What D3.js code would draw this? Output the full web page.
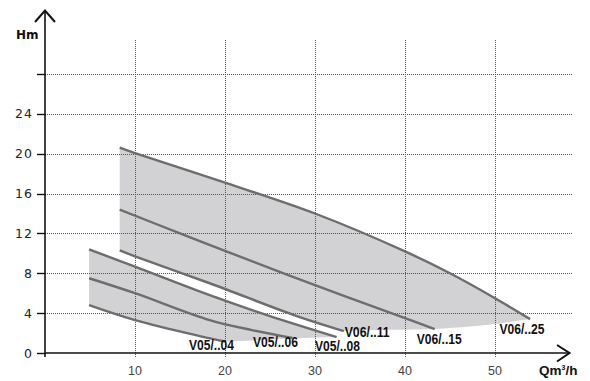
<!DOCTYPE html>
<html><head><meta charset="utf-8">
<script src="https://cdn.jsdelivr.net/npm/d3@7"></script>
<style>
html,body{margin:0;padding:0;background:#fff;}
svg{display:block;}
</style></head>
<body>
<svg id="c" width="590" height="381"></svg>
<script>
// ---- data ----
const flowTicks = [10, 20, 30, 40, 50];
const headTicks = [0, 4, 8, 12, 16, 20, 24, 28];
const headTickLabels = ["0", "4", "8", "12", "16", "20", "24", ""];

// V06 group (pump curves, Q m3/h, H m)
const v06_25 = [[8.3,20.6],[10,20.05],[20,17.1],[30,14.0],[40,10.2],[45,8.0],[50,5.5],[53.9,3.4]];
const v06_15 = [[8.3,14.4],[15,12.0],[20,10.25],[30,6.8],[40,3.5],[43.3,2.4]];
const v06_11 = [[8.3,10.3],[10,9.7],[18.3,7.0],[28.3,3.6],[33.2,2.2]];
const v06_min = [[33.2,2.2],[37.2,2.3],[43.3,2.4],[47.2,2.65],[50,2.9],[53.9,3.4]];

// V05 group
const v05_08 = [[4.9,10.4],[10,8.66],[18.3,5.8],[25,3.7],[32.4,1.6]];
const v05_06 = [[4.9,7.5],[10,6.0],[18.3,3.3],[23,2.3],[27.5,1.5]];
const v05_04 = [[4.9,4.8],[10,3.3],[17.2,1.7],[20,1.15]];
const v05_min = [[20,1.15],[27.5,1.45],[32.4,1.6]];

const curveLabels = [
  {text:"V05/..04", q:16.0, h:0.3},
  {text:"V05/..06", q:23.1, h:0.6},
  {text:"V05/..08", q:30.0, h:0.2},
  {text:"V06/..11", q:33.3, h:1.6},
  {text:"V06/..15", q:41.3, h:0.9},
  {text:"V06/..25", q:50.5, h:1.9}
];

// ---- scales ----
const x = d3.scaleLinear().domain([0, 50]).range([45, 495]);
const y = d3.scaleLinear().domain([0, 28]).range([353, 74]);

const svg = d3.select("#c");
const line = d3.line().x(d => x(d[0])).y(d => y(d[1])).curve(d3.curveCatmullRom.alpha(0.5));

function region(upper, bottom, lower) {
  const parts = [upper, bottom.slice().reverse(), lower.slice().reverse()];
  let p = line(parts[0]);
  for (let i = 1; i < parts.length; i++) p += "L" + line(parts[i]).slice(1);
  return p + "Z";
}

const fillCol = "#d2d2d4";
svg.append("path").attr("d", region(v06_25, v06_min, v06_11)).attr("fill", fillCol);
svg.append("path").attr("d", region(v05_08, v05_min, v05_04)).attr("fill", fillCol);

// gridlines
const grid = svg.append("g").attr("stroke", "#555").attr("stroke-width", 1).attr("stroke-dasharray", "1,1");
grid.selectAll("line.v").data(flowTicks).join("line")
  .attr("x1", d => x(d) + 0.5).attr("x2", d => x(d) + 0.5)
  .attr("y1", 40).attr("y2", 358);
grid.selectAll("line.h").data(headTicks.filter(d => d > 0)).join("line")
  .attr("x1", 45).attr("x2", 573)
  .attr("y1", d => Math.round(y(d)) + 0.5).attr("y2", d => Math.round(y(d)) + 0.5);

// curves
const curves = [v06_25, v06_15, v06_11, v05_08, v05_06, v05_04];
svg.append("g").selectAll("path").data(curves).join("path")
  .attr("d", line).attr("fill", "none").attr("stroke", "#6d6d6d").attr("stroke-width", 2.4);

// axes
const ax = svg.append("g").attr("stroke", "#111").attr("fill", "none");
ax.append("line").attr("x1", 45).attr("x2", 45).attr("y1", 357).attr("y2", 11).attr("stroke-width", 1.6);
ax.append("path").attr("d", "M35,22L45,10.5L55,22").attr("stroke-width", 2);
ax.append("line").attr("x1", 45).attr("x2", 569).attr("y1", 353).attr("y2", 353).attr("stroke-width", 1.6);
ax.append("path").attr("d", "M557,345L569.5,353L557,361.5").attr("stroke-width", 2);
ax.selectAll("line.t").data(headTicks).join("line")
  .attr("x1", 37).attr("x2", 45)
  .attr("y1", d => Math.round(y(d)) + 0.5).attr("y2", d => Math.round(y(d)) + 0.5)
  .attr("stroke-width", 1.4);

// tick labels
svg.append("g").selectAll("text").data(headTicks).join("text")
  .attr("x", 33).attr("y", d => y(d) + 4.5).attr("text-anchor", "end")
  .attr("font-family", "DejaVu Sans, sans-serif").attr("font-size", 12.5).attr("letter-spacing", 1)
  .attr("fill", "#222").text((d, i) => headTickLabels[i]);

svg.append("g").selectAll("text").data(flowTicks).join("text")
  .attr("x", d => x(d)).attr("y", 374.5).attr("text-anchor", "middle")
  .attr("font-family", "Liberation Sans Narrow, Liberation Sans, sans-serif").attr("font-size", 12.5)
  .attr("fill", "#444").text(d => d);

// axis titles
svg.append("text").attr("x", 16).attr("y", 39)
  .attr("font-family", "DejaVu Sans, sans-serif").attr("font-weight", "bold").attr("font-size", 12)
  .attr("fill", "#111").text("Hm");
const qt = svg.append("text").attr("x", 539).attr("y", 375)
  .attr("font-family", "Liberation Sans Narrow, Liberation Sans, sans-serif").attr("font-weight", "bold").attr("font-size", 13.5)
  .attr("fill", "#111");
qt.append("tspan").text("Qm");
qt.append("tspan").attr("font-size", 7).attr("dy", -5).text("3");
qt.append("tspan").attr("dy", 5).text("/h");

// curve labels
svg.append("g").selectAll("text").data(curveLabels).join("text")
  .attr("x", d => x(d.q)).attr("y", d => y(d.h))
  .attr("font-family", "Liberation Sans Narrow, Liberation Sans, sans-serif").attr("font-weight", "bold").attr("font-size", 14.5)
  .attr("textLength", 45).attr("lengthAdjust", "spacingAndGlyphs")
  .attr("fill", "#111").text(d => d.text);
</script>
</body></html>
